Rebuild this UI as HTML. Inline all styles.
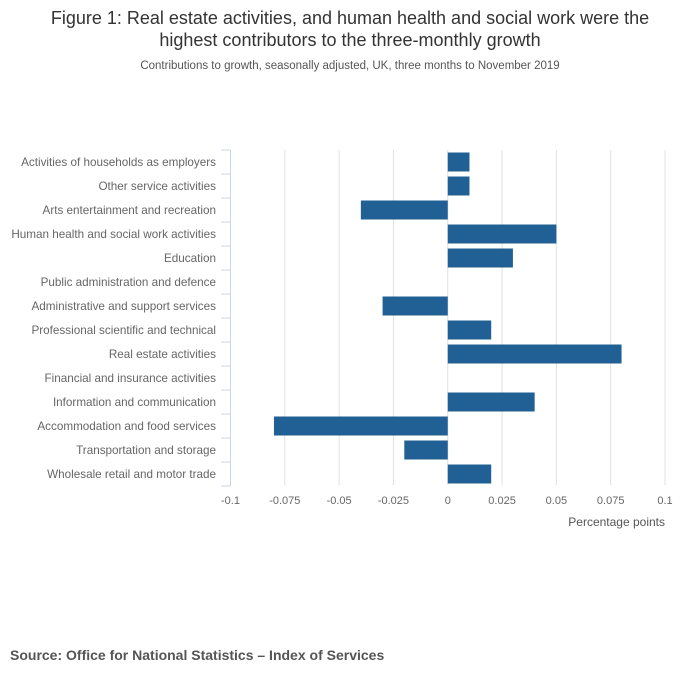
<!DOCTYPE html>
<html><head><meta charset="utf-8"><style>
body{margin:0;background:#fff;font-family:"Liberation Sans",sans-serif}
svg text{font-family:"Liberation Sans",sans-serif}
</style></head><body>
<svg id="c" width="700" height="682" xmlns="http://www.w3.org/2000/svg">
<text x="350" y="24" text-anchor="middle" font-size="18" fill="#333">Figure 1: Real estate activities, and human health and social work were the</text>
<text x="350" y="46" text-anchor="middle" font-size="18" fill="#333">highest contributors to the three-monthly growth</text>
<text x="350" y="69" text-anchor="middle" font-size="11.5" fill="#555">Contributions to growth, seasonally adjusted, UK, three months to November 2019</text>
<g id="grid"></g><g id="bars"></g><g id="ylab"></g><g id="xlab"></g>
<text x="665" y="526" text-anchor="end" font-size="12" fill="#555">Percentage points</text>
<text x="10" y="660" font-size="14" font-weight="bold" fill="#555">Source: Office for National Statistics – Index of Services</text>
</svg>
<script>
const categories=["Activities of households as employers","Other service activities","Arts entertainment and recreation","Human health and social work activities","Education","Public administration and defence","Administrative and support services","Professional scientific and technical","Real estate activities","Financial and insurance activities","Information and communication","Accommodation and food services","Transportation and storage","Wholesale retail and motor trade"];
const values=[0.01,0.01,-0.04,0.05,0.03,0,-0.03,0.02,0.08,0,0.04,-0.08,-0.02,0.02];
const ticks=[-0.1,-0.075,-0.05,-0.025,0,0.025,0.05,0.075,0.1];
const tickLabels=["-0.1","-0.075","-0.05","-0.025","0","0.025","0.05","0.075","0.1"];
const NS="http://www.w3.org/2000/svg";
const plotX0=230.5,plotX1=665,plotTop=150,plotBottom=486;
const xs=v=>plotX0+(v+0.1)/0.2*(plotX1-plotX0);
const rowH=(plotBottom-plotTop)/categories.length;
function mk(t,a,p){const e=document.createElementNS(NS,t);for(const k in a)e.setAttribute(k,a[k]);document.getElementById(p).appendChild(e);return e;}
ticks.forEach((t,i)=>{
  if(i>0){const g=mk('line',{x1:xs(t),x2:xs(t),y1:plotTop,y2:plotBottom-1,stroke:'#e0e0e0','stroke-width':1},'grid');
  
  }
  const l=mk('text',{x:xs(t),y:504,'text-anchor':'middle','font-size':11,fill:'#666'},'xlab');
  l.textContent=tickLabels[i];
  
  
});
const ax=mk('line',{x1:plotX0,x2:plotX0,y1:plotTop,y2:plotBottom,stroke:'#ccd6eb','stroke-width':1},'grid');


for(let i=0;i<=categories.length;i++){
  const y=plotTop+i*rowH;
  const tk=mk('line',{x1:221,x2:plotX0,y1:y,y2:y,stroke:'#ccd6eb','stroke-width':1},'grid');
  
  
}
categories.forEach((c,i)=>{
  const yc=plotTop+(i+0.5)*rowH;
  const l=mk('text',{x:216,y:yc+4,'text-anchor':'end','font-size':11.7,fill:'#666'},'ylab');
  l.textContent=c;
  
  
  const v=values[i];
  const a=xs(Math.min(0,v)),b=xs(Math.max(0,v));
  const r=mk('rect',{x:a,y:yc-9.5,width:b-a,height:19,fill:'#206095'},'bars');
  
  
});
</script>
</body></html>
